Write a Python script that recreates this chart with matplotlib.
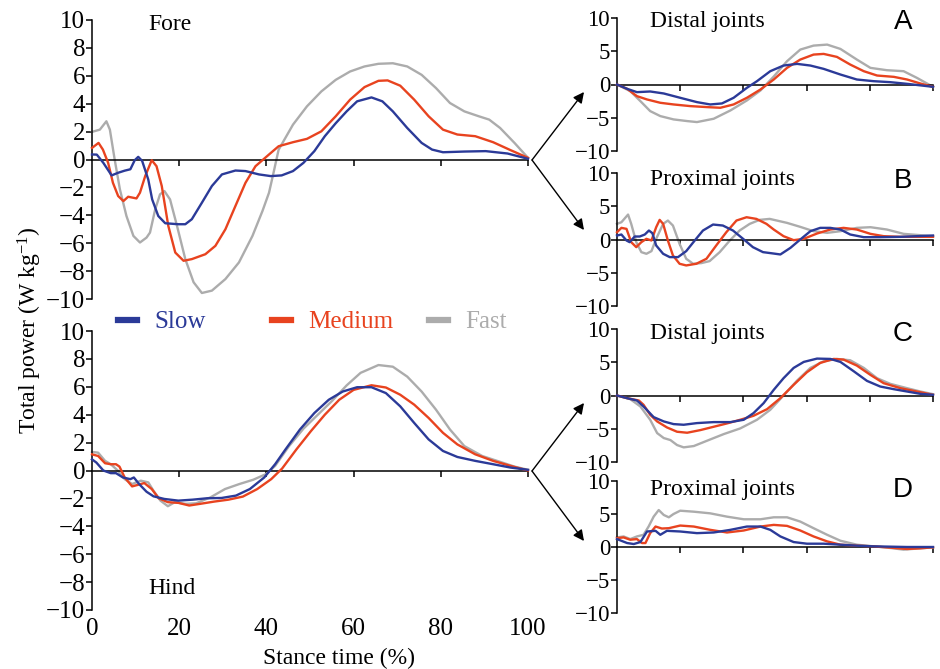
import matplotlib.pyplot as plt
from matplotlib.patches import FancyArrowPatch

plt.rcParams['font.family'] = ['Liberation Serif', 'DejaVu Serif']
plt.rcParams['mathtext.fontset'] = 'custom'
plt.rcParams['mathtext.rm'] = 'Liberation Serif'
plt.rcParams['mathtext.it'] = 'Liberation Serif:italic'
plt.rcParams['axes.linewidth'] = 1.1

# colours for the three speeds
c_slow = '#2b3a98'
c_med = '#e8431f'
c_fast = '#acacac'

# ---- fore limb, total power ----
fore_slow_x = [0, 1.1, 2.6, 4.5, 6, 7.5, 8.8, 9.8, 10.6, 11.5, 12.9, 13.8, 15.2, 16.8, 19.8, 21.4, 22.9, 25.2,
               27.5, 29.8, 32.9, 35.2, 38.3, 41, 43.5, 46.1, 48.5, 51, 53.4, 55.9, 58.4, 60.8, 64.1, 66.6, 69,
               72.3, 75.6, 78, 80.5, 85.4, 90.3, 95.3, 100]
fore_slow = [0.36, 0.35, -0.24, -1.14, -0.95, -0.8, -0.7, -0.05, 0.19, -0.1, -1.43, -2.86, -4.05, -4.57, -4.64,
             -4.64, -4.28, -3.1, -1.9, -1.07, -0.79, -0.83, -1.07, -1.19, -1.14, -0.83, -0.24, 0.6, 1.67, 2.6,
             3.45, 4.17, 4.45, 4.17, 3.45, 2.26, 1.19, 0.71, 0.52, 0.57, 0.6, 0.43, 0.05]
fore_med_x = [0, 1.5, 2.5, 3.7, 4.8, 6, 7.2, 8.3, 10.2, 11, 12.2, 13.7, 14.8, 16, 17.5, 19.1, 21, 22.9, 26,
              28.3, 30.6, 32.9, 35.2, 37.5, 40.6, 42.8, 46.1, 49.3, 52.6, 55.9, 59.2, 62.5, 65.7, 67.8, 70.7,
              73.9, 77.2, 80.5, 83.8, 87.9, 92, 96, 100]
fore_med = [0.83, 1.19, 0.71, -0.24, -1.67, -2.62, -2.98, -2.67, -2.79, -2.38, -1.19, -0.05, -0.48, -1.9,
            -4.76, -6.67, -7.26, -7.14, -6.79, -6.19, -5.0, -3.33, -1.67, -0.48, 0.36, 0.95, 1.24, 1.48, 2.02,
            3.1, 4.29, 5.19, 5.64, 5.67, 5.29, 4.29, 3.1, 2.14, 1.79, 1.67, 1.24, 0.67, 0.12]
fore_fast_x = [0, 1.8, 3.3, 4.1, 5.2, 6.4, 7.9, 9.5, 11, 12.5, 13.3, 14.5, 15.6, 16.6, 17.9, 19.5, 21.4, 23.3,
               25.2, 27.5, 30.6, 33.7, 36.8, 39.1, 40.6, 41.6, 42.8, 46.1, 49.3, 52.6, 55.9, 59.2, 62.5, 65.7,
               69, 72.3, 75.6, 78.9, 82.1, 85.4, 88.7, 91.1, 93.6, 96.9, 100]
fore_fast = [1.98, 2.14, 2.74, 2.14, 0, -2.14, -4.05, -5.48, -5.95, -5.6, -5.24, -3.57, -2.5, -2.26, -2.86,
             -4.76, -7.14, -8.8, -9.57, -9.4, -8.57, -7.38, -5.48, -3.69, -2.38, -1.0, 0.7, 2.5, 3.81, 4.88,
             5.71, 6.31, 6.67, 6.86, 6.9, 6.67, 6.07, 5.12, 4.05, 3.45, 3.1, 2.86, 2.26, 1.19, 0.12]

# ---- hind limb, total power ----
hind_slow_x = [0, 1, 2.6, 4.3, 5.5, 7.1, 8.8, 9.6, 10.8, 12.5, 14.1, 16.6, 19.8, 23.1, 26.4, 29.7, 33, 36.2,
               39.5, 42, 44.4, 47.7, 51, 54.3, 57.5, 60.8, 64.1, 67.4, 70.7, 73.9, 77.2, 80.5, 83.8, 87.9, 92,
               96, 100]
hind_slow = [0.8, 0.57, 0, -0.19, -0.19, -0.5, -0.62, -0.5, -0.97, -1.52, -1.85, -2.04, -2.16, -2.09, -1.99,
             -1.97, -1.8, -1.33, -0.5, 0.45, 1.52, 2.94, 4.12, 5.07, 5.66, 5.97, 5.97, 5.55, 4.6, 3.41, 2.23,
             1.4, 0.97, 0.69, 0.45, 0.21, 0.05]
hind_med_x = [0, 1.4, 3, 4.3, 5.5, 6.3, 7.5, 9.2, 10.4, 12, 13.7, 15.3, 17.4, 19.8, 22.3, 24.8, 28, 31.3, 34.6,
              37.9, 41.1, 43.6, 46.9, 50.2, 53.4, 56.7, 60, 64.1, 67.4, 70.7, 73.9, 77.2, 80.5, 83.8, 87.9, 92,
              96, 100]
hind_med = [1.16, 1.04, 0.52, 0.45, 0.45, 0.28, -0.5, -1.14, -1.04, -0.9, -1.33, -1.99, -2.27, -2.32, -2.51,
            -2.39, -2.23, -2.09, -1.87, -1.33, -0.62, 0.14, 1.52, 2.82, 4.0, 5.07, 5.78, 6.11, 5.95, 5.43, 4.72,
            3.77, 2.7, 1.87, 1.16, 0.69, 0.33, 0]
hind_fast_x = [0, 1.4, 3, 4.3, 5.9, 7.5, 9.2, 11.2, 12.9, 14.1, 15.7, 17.4, 19, 21.5, 23.9, 27.2, 30.5, 33.8,
               37, 39.9, 42, 45.2, 48.5, 51.8, 55.1, 58.4, 61.6, 65.7, 69, 72.3, 75.6, 78.9, 82.1, 85.4, 89.5,
               93.6, 96.9, 100]
hind_fast = [1.33, 1.28, 0.69, 0.45, 0, -0.62, -0.97, -0.73, -0.85, -1.45, -2.16, -2.56, -2.27, -2.39, -2.35,
             -1.92, -1.33, -0.97, -0.66, -0.26, 0.33, 1.75, 3.0, 4.0, 5.0, 6.1, 7.0, 7.56, 7.44, 6.73, 5.66,
             4.36, 2.94, 1.75, 1.04, 0.62, 0.28, 0.05]

# ---- A: fore distal joints ----
a_slow_x = [0, 3.2, 6.3, 10.5, 14.8, 20, 25.3, 29.5, 33.2, 36.9, 41.1, 44.3, 48.5, 52.7, 57, 61.2, 65.4, 70.7,
            75.9, 81.2, 86.5, 91.8, 100]
a_slow = [0, -0.65, -1.15, -1.05, -1.35, -2.0, -2.65, -3.0, -2.85, -2.0, -0.5, 0.5, 2.0, 2.85, 3.1, 2.85, 2.35,
          1.5, 0.75, 0.5, 0.35, 0.1, -0.35]
a_med_x = [0, 3.2, 6.3, 9.5, 13.7, 17.9, 23.2, 28.5, 32.7, 36.9, 41.1, 45.4, 49.6, 53.8, 58, 62.2, 65.4, 69.6,
           73.8, 78.1, 82.3, 87.6, 91.8, 96, 100]
a_med = [0, -0.65, -1.75, -2.25, -2.75, -3.0, -3.25, -3.4, -3.5, -3.0, -2.0, -0.75, 0.75, 2.5, 3.75, 4.5, 4.6,
         4.15, 3.0, 2.0, 1.35, 1.15, 0.75, 0.15, -0.35]
a_fast_x = [0, 4.2, 7.4, 10.5, 13.7, 17.9, 22.2, 25.3, 30.6, 35.9, 41.1, 45.4, 49.6, 53.8, 58, 62.2, 66.5, 70.7,
            75.9, 80.2, 85.4, 90.7, 94.9, 100]
a_fast = [0, -1.0, -2.5, -4.0, -4.75, -5.25, -5.5, -5.65, -5.15, -3.9, -2.4, -0.9, 1.2, 3.5, 5.25, 5.85, 6.0,
          5.35, 3.75, 2.5, 2.15, 2.0, 1.0, -0.35]

# ---- B: fore proximal joints ----
b_slow_x = [0, 1.4, 3, 4, 5.6, 7.2, 8.8, 10.1, 11.2, 12.4, 14.6, 16.7, 19.3, 21.9, 24.6, 27.2, 30.4, 33.5, 36.7,
            39.9, 43, 46.2, 49.4, 51.7, 54.9, 58, 61.2, 64.3, 67.5, 70.7, 73.8, 78.1, 83.3, 89.7, 94.9, 100]
b_slow = [0.6, 0.75, -0.15, -0.4, 0.45, 0.45, 0.75, 1.35, 0.95, -0.9, -2.15, -2.65, -2.65, -1.75, -0.15, 1.35,
          2.25, 2.1, 1.35, 0.1, -1.15, -1.9, -2.1, -2.25, -1.25, 0, 1.25, 1.75, 1.75, 1.5, 0.75, 0.35, 0.35,
          0.4, 0.5, 0.6]
b_med_x = [0, 1.4, 3, 4.5, 6.1, 7.7, 9.3, 10.9, 12.4, 13.5, 14.6, 16.1, 17.7, 19.8, 21.9, 25.1, 28.3, 31.4,
           34.6, 37.8, 41, 44.1, 47.3, 49.6, 52.7, 55.9, 59.1, 63.3, 67.5, 71.7, 75.9, 80.2, 84.4, 89.7, 94.9, 100]
b_med = [1.1, 1.75, 1.6, -0.4, -1.15, -0.4, 0.1, -0.15, 1.85, 2.95, 2.35, -0.15, -2.4, -3.65, -3.9, -3.65,
         -2.9, -0.9, 1.1, 2.85, 3.35, 3.1, 2.35, 1.5, 0.5, -0.1, 0.1, 0.9, 1.5, 1.75, 1.5, 0.85, 0.5, 0.4, 0.4,
         0.4]
b_fast_x = [0, 1.4, 3.5, 4.5, 6.1, 7.7, 9.3, 10.9, 12.4, 14.6, 16.1, 17.7, 19.8, 21.9, 24.1, 26.7, 29.3, 32.5,
            35.7, 38.8, 42, 45.1, 48.3, 53.8, 58, 62.2, 66.5, 70.7, 75.9, 80.2, 85.4, 90.7, 96, 100]
b_fast = [2.35, 2.6, 3.75, 2.35, -0.4, -1.9, -2.15, -1.75, 0.1, 2.35, 2.85, 2.1, -0.65, -2.9, -3.65, -3.55,
          -3.25, -1.9, -0.15, 1.35, 2.35, 2.95, 3.1, 2.5, 1.9, 1.25, 1.0, 1.25, 1.75, 1.85, 1.5, 0.85, 0.65, 0.5]

# ---- C: hind distal joints ----
c_slow_x = [0, 3.2, 6.3, 8.4, 11.6, 14.8, 17.9, 21.1, 25.3, 30.6, 35.9, 40.1, 43.2, 46.4, 49.6, 52.7, 55.9,
            59.1, 63.3, 67.5, 70.7, 74.9, 79.1, 83.3, 87.6, 91.8, 96, 100]
c_slow_y = [0, -0.4, -0.75, -1.65, -3.25, -3.9, -4.3, -4.4, -4.15, -4.0, -4.0, -3.65, -2.65, -1.15, 0.85, 2.6,
            4.15, 5.05, 5.55, 5.5, 5.05, 3.65, 2.2, 1.35, 0.95, 0.6, 0.25, 0.1]
c_med_x = [0, 3.2, 6.9, 8.4, 10.5, 12.7, 15.8, 19, 22.2, 26.4, 30.6, 34.8, 39, 43.2, 47.5, 51.7, 55.9, 60.1,
           64.3, 68.6, 71.7, 75.9, 80.2, 84.4, 89.7, 94.9, 100]
c_med_y = [0, -0.4, -0.75, -1.4, -2.9, -3.9, -4.8, -5.45, -5.6, -5.2, -4.7, -4.2, -3.65, -3.05, -2.05, -0.4,
           1.6, 3.5, 4.9, 5.5, 5.4, 4.5, 3.1, 1.85, 1.1, 0.6, 0.1]
c_fast_x = [0, 4.2, 7.4, 10.5, 12.7, 14.8, 16.9, 19, 21.1, 24.3, 28.5, 33.8, 39, 44.3, 48.5, 52.7, 57, 61.2,
            65.4, 69.6, 73.8, 78.1, 82.3, 86.5, 91.8, 96, 100]
c_fast_y = [0, -0.55, -1.65, -3.65, -5.65, -6.4, -6.7, -7.45, -7.8, -7.6, -6.8, -5.8, -4.95, -3.65, -2.15, 0,
            2.25, 4.15, 5.15, 5.5, 5.3, 4.15, 2.6, 1.75, 1.1, 0.6, 0.2]

# ---- D: hind proximal joints ----
d_slow_x = [0, 3.2, 5.3, 7.4, 9.5, 12.2, 13.7, 15.8, 20, 25.3, 30.6, 35.9, 41.1, 45.4, 48.5, 51.7, 55.9, 60.1,
            65.4, 70.7, 75.9, 81.2, 91.8, 100]
d_slow = [1.2, 0.6, 0.45, 0.75, 2.35, 2.45, 1.85, 2.45, 2.35, 2.1, 2.2, 2.6, 3.1, 3.1, 2.6, 1.6, 0.75, 0.5,
          0.5, 0.35, 0.2, 0.1, 0, 0]
d_med_x = [0, 2.1, 4.2, 6.3, 7.9, 9, 10.5, 12.2, 14.2, 16.4, 20, 24.3, 29.5, 34.8, 40.1, 45.4, 49.6, 53.8, 58,
           62.2, 66.5, 70.7, 75.9, 81.2, 86.5, 91.8, 96, 100]
d_med = [1.35, 1.45, 1.1, 1.2, 0.6, 0.6, 2.1, 3.1, 2.8, 2.85, 3.25, 3.1, 2.6, 2.2, 2.5, 3.1, 3.35, 3.2, 2.5,
         1.6, 0.85, 0.35, 0.2, 0.1, -0.1, -0.3, -0.2, -0.05]
d_fast_x = [0, 2.1, 4.2, 6.3, 8.4, 10, 11.6, 13.2, 14.8, 16.4, 17.9, 20, 24.3, 29.5, 34.8, 40.1, 45.4, 49.6,
            53.8, 58, 62.2, 66.5, 70.7, 75.9, 81.2, 86.5, 90.7, 96, 100]
d_fast = [1.45, 1.6, 1.2, 1.6, 1.85, 3.1, 4.6, 5.6, 4.85, 4.5, 5.0, 5.5, 5.35, 5.1, 4.6, 4.2, 4.2, 4.5, 4.5,
          3.85, 2.85, 1.85, 0.95, 0.35, 0.1, -0.15, -0.4, -0.2, -0.05]

speed_labels = ['Slow', 'Medium', 'Fast']
xticks = [0, 20, 40, 60, 80, 100]

W, H = 940, 669
fig = plt.figure(figsize=(9.4, 6.69), dpi=100)


def px_box(left, top, right, bottom):
    return [left / W, 1 - bottom / H, (right - left) / W, (bottom - top) / H]


def style_axis(ax, yticks, fsize):
    ax.set_xlim(0, 100)
    ax.set_ylim(-10, 10)
    for s in ['top', 'right']:
        ax.spines[s].set_visible(False)
    ax.spines['bottom'].set_position(('data', 0))
    ax.set_xticks(xticks[1:])
    ax.set_yticks(yticks)
    ax.tick_params(axis='x', direction='out', length=4, width=1.1, labelbottom=False)
    ax.tick_params(axis='y', direction='out', length=4, width=1.1, labelsize=fsize, pad=1)


def draw(ax, series):
    lines = []
    for (x, y), col in zip(series, [c_slow, c_med, c_fast]):
        ln, = ax.plot(x, y, color=col, lw=1.7, clip_on=False, solid_joinstyle='round')
        lines.append(ln)
    lines[0].set_zorder(4)
    lines[1].set_zorder(3)
    lines[2].set_zorder(2)
    return lines


ax_fore = fig.add_axes(px_box(92, 20, 528, 299))
ax_hind = fig.add_axes(px_box(92, 331, 528, 610))
ax_a = fig.add_axes(px_box(617, 18, 933, 151))
ax_b = fig.add_axes(px_box(617, 173, 933, 306))
ax_c = fig.add_axes(px_box(617, 329, 933, 462))
ax_d = fig.add_axes(px_box(617, 481, 933, 613))

big_ticks = list(range(-10, 11, 2))
small_ticks = [-10, -5, 0, 5, 10]

fore_lines = draw(ax_fore, [(fore_slow_x, fore_slow), (fore_med_x, fore_med), (fore_fast_x, fore_fast)])
draw(ax_hind, [(hind_slow_x, hind_slow), (hind_med_x, hind_med), (hind_fast_x, hind_fast)])
draw(ax_a, [(a_slow_x, a_slow), (a_med_x, a_med), (a_fast_x, a_fast)])
draw(ax_b, [(b_slow_x, b_slow), (b_med_x, b_med), (b_fast_x, b_fast)])
draw(ax_c, [(c_slow_x, c_slow_y), (c_med_x, c_med_y), (c_fast_x, c_fast_y)])
draw(ax_d, [(d_slow_x, d_slow), (d_med_x, d_med), (d_fast_x, d_fast)])

for ax in [ax_fore, ax_hind]:
    style_axis(ax, big_ticks, 18)
for ax in [ax_a, ax_b, ax_c, ax_d]:
    style_axis(ax, small_ticks, 16.5)

# x labels of the hind panel sit below the -10 line
for t in xticks:
    ax_hind.annotate(str(t), xy=(t, 0), xycoords=('data', 'axes fraction'), xytext=(0, -6),
                     textcoords='offset points', ha='center', va='top', fontsize=18)

fig.text(339 / W, 1 - 658 / H, 'Stance time (%)', ha='center', va='center', fontsize=17)
fig.text(30 / W, 1 - 330 / H, 'Total power (W kg$^{-1}$)', rotation=90, ha='center', va='center',
         fontsize=17)

fig.text(148 / W, 1 - 25 / H, 'Fore', ha='left', va='center', fontsize=17)
fig.text(148 / W, 1 - 588 / H, 'Hind', ha='left', va='center', fontsize=17)

panel_titles = [('Distal joints', 'A', 21), ('Proximal joints', 'B', 180),
                ('Distal joints', 'C', 333), ('Proximal joints', 'D', 489)]
for title, letter, ypx in panel_titles:
    fig.text(650 / W, 1 - ypx / H, title, ha='left', va='center', fontsize=17)
    fig.text(903 / W, 1 - (ypx + 1) / H, letter, ha='center', va='center', fontsize=20,
             family='Liberation Sans')

# legend entries, coloured text
legend_pos = [118, 272, 429]
for ln, lab, xpx in zip(fore_lines, speed_labels, legend_pos):
    leg = fig.legend([ln], [lab], loc='center left', bbox_to_anchor=(xpx / W, 1 - 322 / H), frameon=False,
                     handlelength=0.75, handletextpad=0.7, borderpad=0, borderaxespad=0,
                     labelcolor='linecolor', fontsize=18)
    for h in leg.get_lines():
        h.set_linewidth(4.5)

# arrows from the main panels to the joint panels
arrows = [((532, 160), (584, 92)), ((532, 160), (584, 230)),
          ((532, 471), (584, 403)), ((532, 471), (584, 541))]
for (x0, y0), (x1, y1) in arrows:
    fig.add_artist(FancyArrowPatch((x0 / W, 1 - y0 / H), (x1 / W, 1 - y1 / H), transform=fig.transFigure,
                                   arrowstyle='-|>', mutation_scale=16, lw=1.0, color='black',
                                   shrinkA=0, shrinkB=0))

fig.savefig('out.png', dpi=100)
